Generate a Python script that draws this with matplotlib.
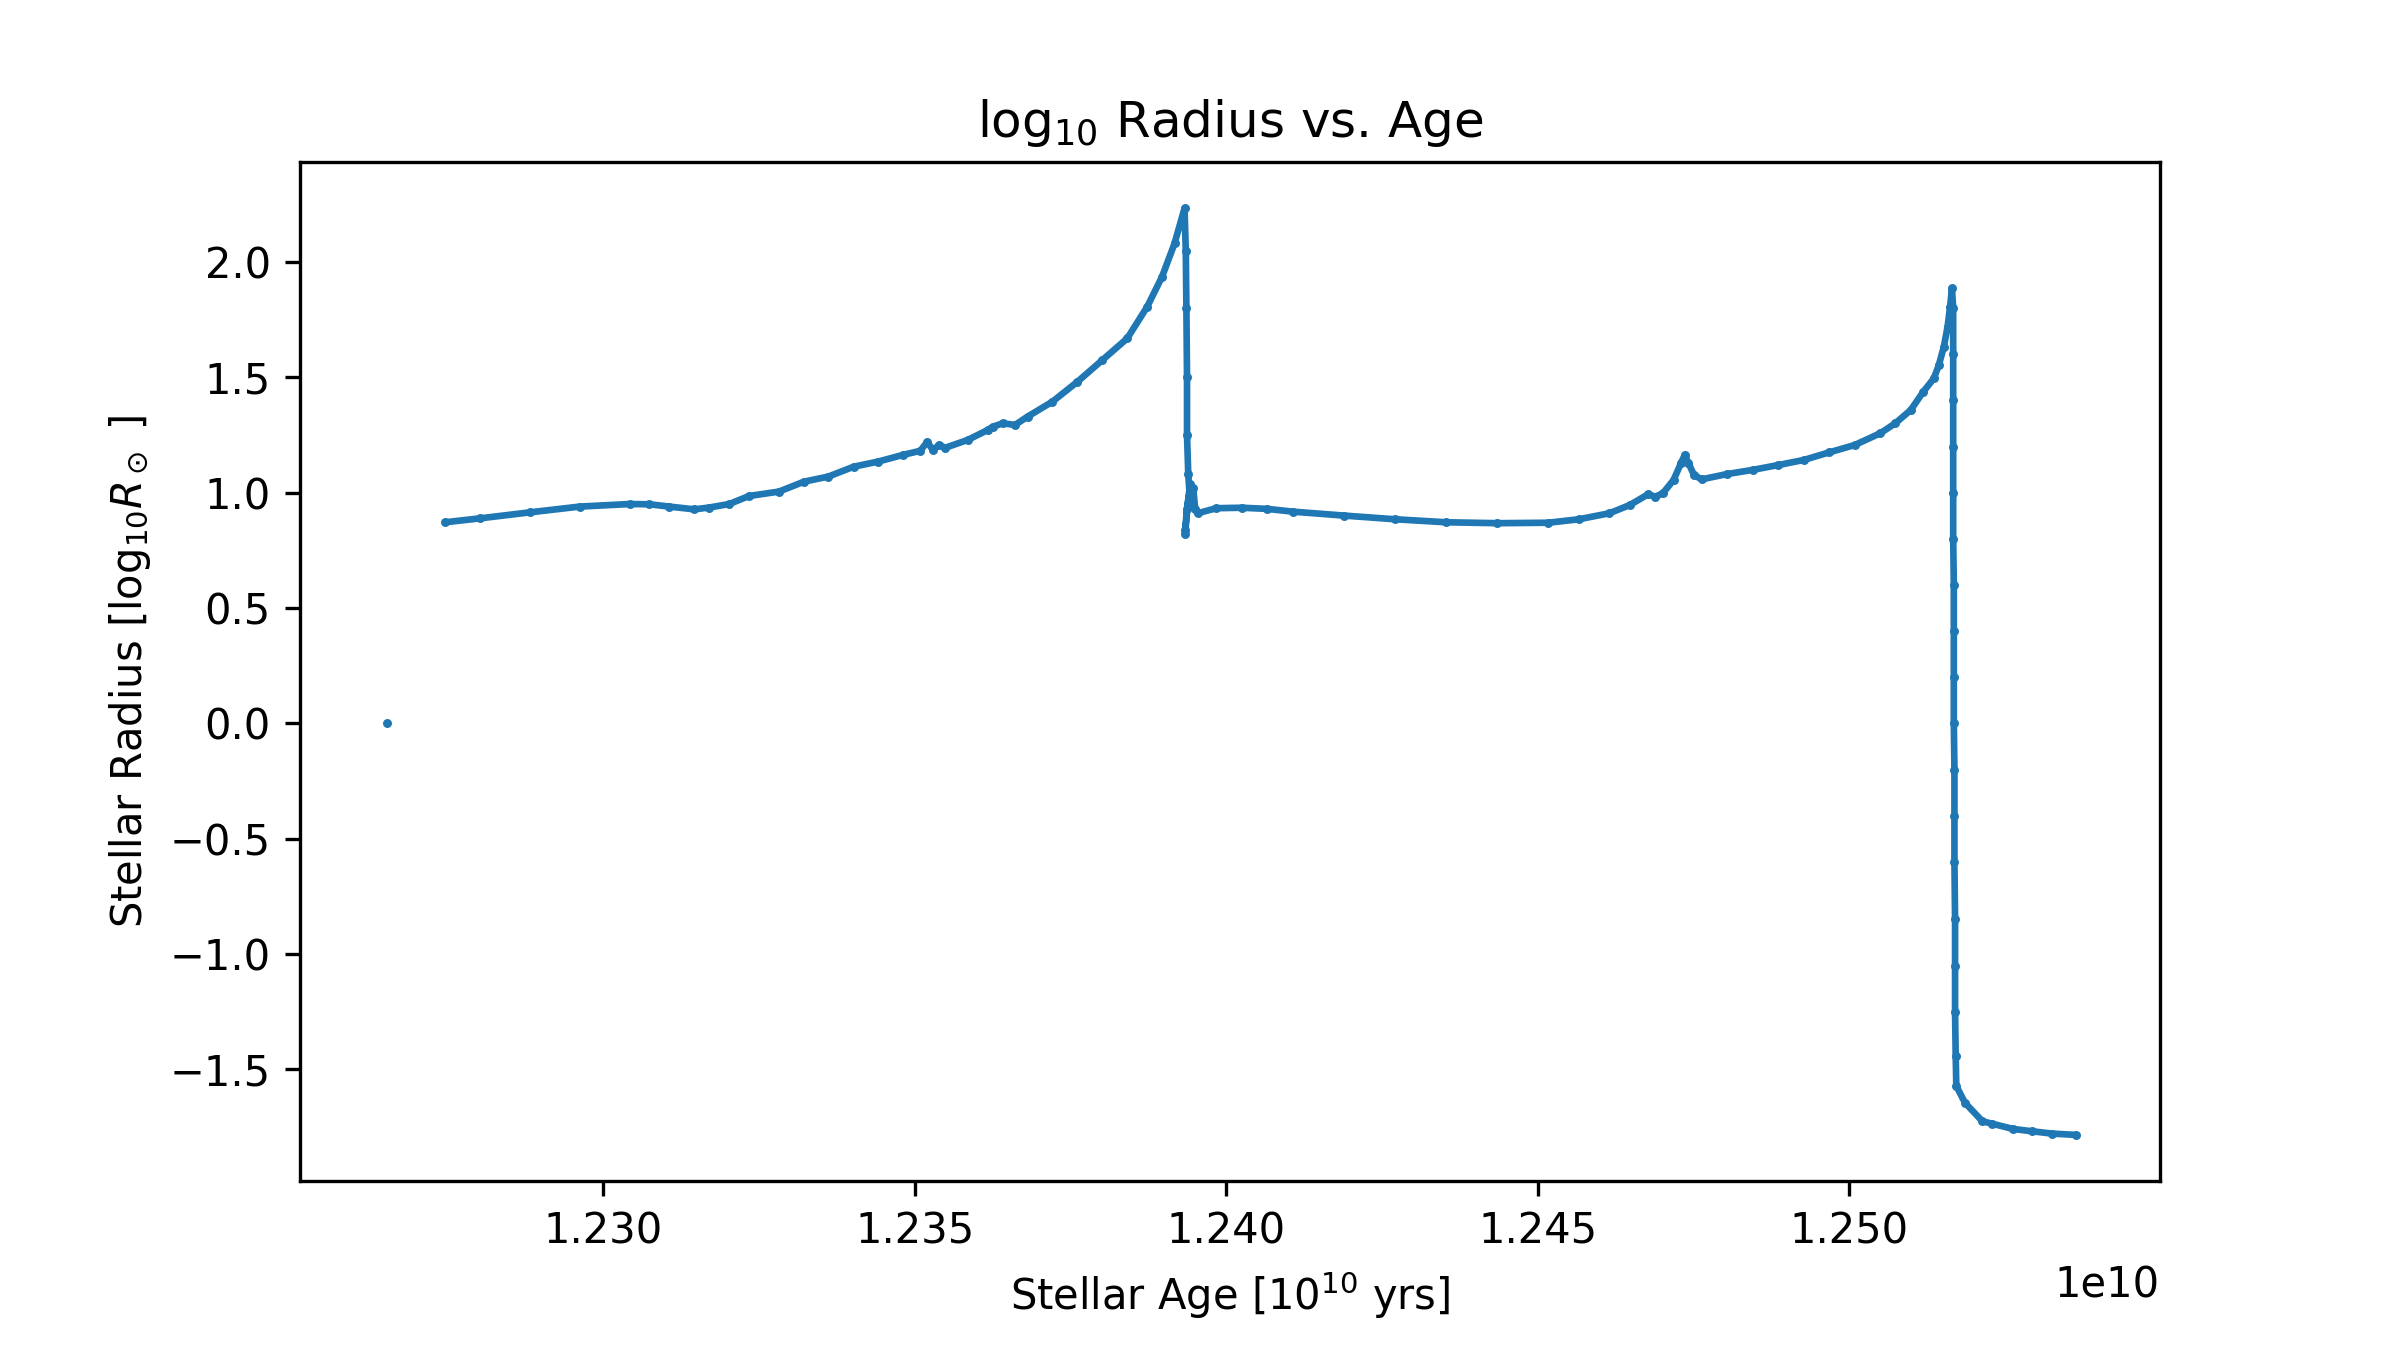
import numpy as np
import matplotlib.pyplot as plt

# stellar age in units of 1e10 yr, log10 radius in solar units
start_age = [1.22652]
start_logr = [0.0]

track_age = [
    1.22746, 1.22802, 1.22882, 1.22962, 1.23042, 1.23074, 1.23106, 1.23146,
    1.23170, 1.23202, 1.23234, 1.23282, 1.23322, 1.23361, 1.23402, 1.23441,
    1.23481, 1.23509, 1.23520, 1.23529, 1.23539, 1.23549, 1.23585, 1.23617,
    1.23625, 1.23641, 1.23661, 1.23681, 1.23721, 1.23761, 1.23801, 1.23841,
    1.23873, 1.23897, 1.23917, 1.23933,
    # helium flash drop
    1.23935, 1.23936, 1.23937, 1.23937, 1.23939, 1.23941, 1.23937, 1.23934,
    1.23934, 1.23938, 1.23942, 1.23945, 1.23947, 1.23950, 1.23954,
    # core helium burning
    1.23984, 1.24025, 1.24066, 1.24107, 1.24189, 1.24271, 1.24353, 1.24435,
    1.24517, 1.24566, 1.24615, 1.24648, 1.24677, 1.24689, 1.24701, 1.24718,
    1.24730, 1.24736, 1.24742, 1.24751, 1.24763, 1.24804, 1.24845, 1.24886,
    1.24927, 1.24968, 1.25009, 1.25050, 1.25074, 1.25099, 1.25119, 1.25136,
    1.25144, 1.25152, 1.25158, 1.25162, 1.25165,
    # collapse to white dwarf
    1.25167, 1.25167, 1.25167, 1.25167, 1.25167, 1.25167, 1.25168, 1.25168,
    1.25168, 1.25168, 1.25169, 1.25169, 1.25169, 1.25170, 1.25170, 1.25170,
    1.25171, 1.25172, 1.25186, 1.25214, 1.25229, 1.25263, 1.25293, 1.25325,
    1.25364,
]
track_logr = [
    0.872, 0.889, 0.915, 0.940, 0.951, 0.950, 0.940, 0.928,
    0.936, 0.951, 0.986, 1.005, 1.048, 1.070, 1.113, 1.135,
    1.164, 1.182, 1.221, 1.185, 1.207, 1.195, 1.229, 1.272,
    1.286, 1.301, 1.294, 1.330, 1.395, 1.481, 1.575, 1.669,
    1.806, 1.937, 2.081, 2.233,
    2.05, 1.80, 1.50, 1.25, 1.08, 1.00, 0.93, 0.84,
    0.82, 0.95, 1.04, 0.96, 1.02, 0.93, 0.911,
    0.933, 0.935, 0.930, 0.918, 0.901, 0.885, 0.872, 0.868,
    0.870, 0.885, 0.911, 0.947, 0.993, 0.983, 0.998, 1.055,
    1.128, 1.164, 1.128, 1.077, 1.058, 1.081, 1.099, 1.120,
    1.142, 1.175, 1.207, 1.258, 1.301, 1.359, 1.438, 1.496,
    1.554, 1.633, 1.720, 1.806, 1.886,
    1.80, 1.60, 1.40, 1.20, 1.00, 0.80, 0.60, 0.40,
    0.20, 0.00, -0.20, -0.40, -0.60, -0.85, -1.05, -1.25,
    -1.44, -1.572, -1.645, -1.725, -1.735, -1.758, -1.768, -1.778,
    -1.784,
]

age = np.array(start_age + track_age) * 1e10
logr = np.array(start_logr + track_logr)

fig, ax = plt.subplots(figsize=(8, 4.5), dpi=300)
fig.subplots_adjust(left=0.125, right=0.9, top=0.88, bottom=0.125)

ax.plot(np.array(track_age) * 1e10, track_logr, color='C0', lw=1.6,
        solid_capstyle='round', solid_joinstyle='round')
ax.scatter(age, logr, s=2.4, linewidths=0.6, color='C0')
ax.set_xlim(1.22513e10, 1.25499e10)

ax.ticklabel_format(axis='x', useOffset=False)
ax.set_title(r'log$_{10}$ Radius vs. Age')
ax.set_xlabel(r'Stellar Age [$10^{10}$ yrs]')
ax.set_ylabel(r'Stellar Radius [log$_{10}R_\odot$ ]')

fig.savefig('out.png', dpi=300)
